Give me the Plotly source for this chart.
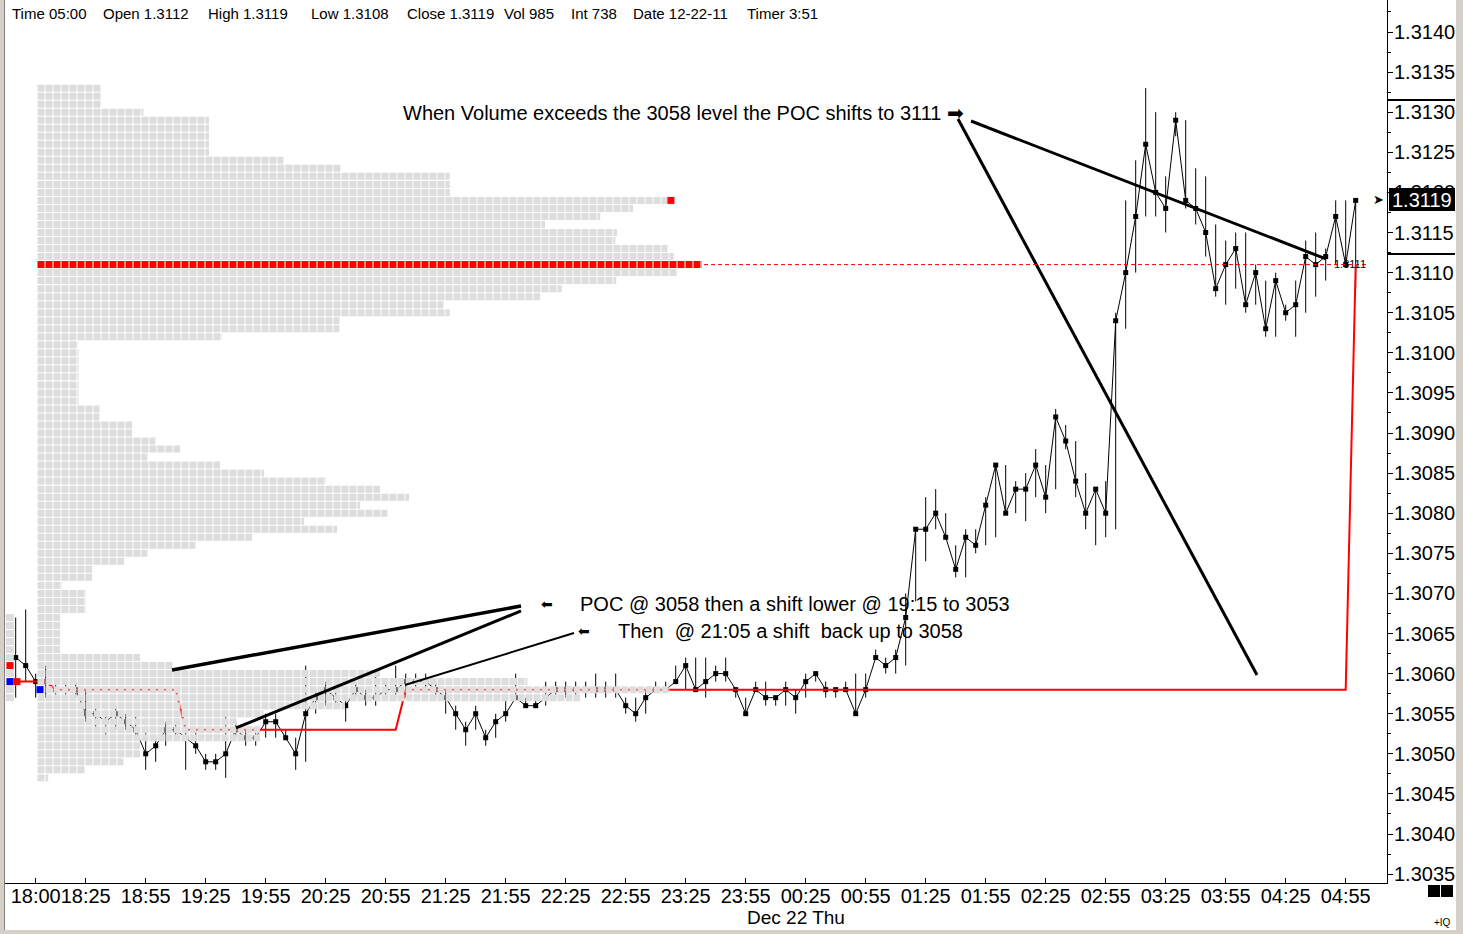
import pandas as pd
import plotly.graph_objects as go

# quotes are written as their last four digits: 3062 -> 1.3062
# 5 minute bars, 17:50 .. 05:00, one row per hour
CLOSE_Q = [
    3062, 3061,
    3059, 3059, 3058, 3058, 3058, 3055, 3055, 3054, 3055, 3054, 3053, 3050,
    3051, 3053, 3053, 3052, 3051, 3049, 3049, 3050, 3053, 3052, 3052, 3054,
    3054, 3052, 3050, 3055, 3057, 3058, 3057, 3056, 3058, 3057, 3057, 3058,
    3058, 3059, 3059, 3059, 3058, 3057, 3055, 3053, 3055, 3052, 3054, 3055,
    3057, 3056, 3056, 3057, 3058, 3058, 3058, 3058, 3058, 3058, 3058, 3056,
    3055, 3057, 3058, 3058, 3059, 3061, 3058, 3059, 3060, 3060, 3058, 3055,
    3058, 3057, 3057, 3058, 3057, 3059, 3060, 3058, 3058, 3058, 3055, 3058,
    3062, 3061, 3062, 3067, 3078, 3078, 3080, 3077, 3073, 3077, 3076, 3081,
    3086, 3080, 3083, 3083, 3086, 3082, 3092, 3089, 3084, 3080, 3083, 3080,
    3104, 3110, 3117, 3126, 3120, 3118, 3129, 3119, 3118, 3115, 3108, 3111,
    3113, 3106, 3110, 3103, 3109, 3105, 3106, 3112, 3111, 3112, 3117, 3111,
    3119,
]
HIGH_Q = [
    3067, 3068,
    3060, 3061, 3059, 3059, 3059, 3058, 3056, 3055, 3056, 3055, 3055, 3053,
    3052, 3054, 3054, 3053, 3053, 3050, 3050, 3055, 3054, 3053, 3053, 3055,
    3055, 3053, 3052, 3061, 3058, 3059, 3058, 3057, 3059, 3058, 3060, 3059,
    3061, 3060, 3060, 3060, 3059, 3058, 3056, 3054, 3056, 3053, 3055, 3057,
    3060, 3057, 3057, 3059, 3059, 3059, 3059, 3059, 3060, 3059, 3060, 3057,
    3057, 3058, 3059, 3059, 3061, 3062, 3062, 3062, 3061, 3062, 3058, 3057,
    3059, 3059, 3057, 3059, 3058, 3060, 3060, 3059, 3058, 3059, 3060, 3060,
    3063, 3062, 3063, 3070, 3078, 3082, 3083, 3080, 3076, 3078, 3078, 3082,
    3086, 3086, 3084, 3085, 3088, 3086, 3093, 3091, 3089, 3085, 3083, 3084,
    3105, 3119, 3124, 3133, 3130, 3122, 3130, 3129, 3123, 3122, 3116, 3114,
    3115, 3115, 3111, 3109, 3110, 3106, 3109, 3114, 3115, 3113, 3119, 3119,
    3119,
]
LOW_Q = [
    3057, 3059,
    3057, 3057, 3057, 3057, 3057, 3054, 3053, 3052, 3053, 3053, 3052, 3048,
    3049, 3051, 3052, 3048, 3050, 3048, 3048, 3047, 3052, 3051, 3051, 3052,
    3052, 3052, 3048, 3049, 3055, 3056, 3056, 3054, 3057, 3056, 3056, 3057,
    3057, 3057, 3058, 3058, 3057, 3055, 3053, 3051, 3053, 3051, 3052, 3054,
    3057, 3056, 3056, 3056, 3057, 3057, 3057, 3057, 3057, 3057, 3057, 3055,
    3054, 3055, 3058, 3058, 3059, 3058, 3058, 3057, 3059, 3059, 3057, 3055,
    3058, 3056, 3056, 3056, 3055, 3057, 3059, 3057, 3057, 3058, 3055, 3057,
    3062, 3060, 3060, 3061, 3069, 3074, 3078, 3077, 3072, 3072, 3075, 3076,
    3077, 3080, 3080, 3079, 3082, 3080, 3083, 3088, 3082, 3078, 3076, 3077,
    3078, 3103, 3110, 3117, 3117, 3115, 3127, 3118, 3116, 3112, 3107, 3106,
    3108, 3105, 3106, 3102, 3102, 3104, 3102, 3105, 3107, 3109, 3111, 3111,
    3108,
]
# developing point of control, bar by bar
POC_Q = [
    3059, 3059,
    3059, 3059, 3058, 3058, 3058, 3058, 3058, 3058, 3058, 3058, 3058, 3058,
    3058, 3058, 3058, 3053, 3053, 3053, 3053, 3053, 3053, 3053, 3053, 3053,
    3053, 3053, 3053, 3053, 3053, 3053, 3053, 3053, 3053, 3053, 3053, 3053,
    3053, 3058, 3058, 3058, 3058, 3058, 3058, 3058, 3058, 3058, 3058, 3058,
    3058, 3058, 3058, 3058, 3058, 3058, 3058, 3058, 3058, 3058, 3058, 3058,
    3058, 3058, 3058, 3058, 3058, 3058, 3058, 3058, 3058, 3058, 3058, 3058,
    3058, 3058, 3058, 3058, 3058, 3058, 3058, 3058, 3058, 3058, 3058, 3058,
    3058, 3058, 3058, 3058, 3058, 3058, 3058, 3058, 3058, 3058, 3058, 3058,
    3058, 3058, 3058, 3058, 3058, 3058, 3058, 3058, 3058, 3058, 3058, 3058,
    3058, 3058, 3058, 3058, 3058, 3058, 3058, 3058, 3058, 3058, 3058, 3058,
    3058, 3058, 3058, 3058, 3058, 3058, 3058, 3058, 3058, 3058, 3058, 3058,
    3111,
]
BAR_TIMES = pd.date_range("2011-12-21 17:50", "2011-12-22 05:00", freq="5min")

TICK_LABELS = ["18:00", "18:25", "18:55", "19:25", "19:55", "20:25", "20:55",
               "21:25", "21:55", "22:25", "22:55", "23:25", "23:55", "00:25",
               "00:55", "01:25", "01:55", "02:25", "02:55", "03:25", "03:55",
               "04:25", "04:55"]

# volume profile: price level -> width in cells
PROFILE_LEVELS = list(range(3047, 3134))
PROFILE_CELLS = [
    1.4, 6.0, 10.8, 12.9, 12.9, 27.9, 27.9, 25.0, 28.3, 38.5,
    67.9, 79.1, 61.3, 42.9, 17.0, 12.9, 2.9, 2.9, 2.9, 2.9,
    2.9, 6.1, 6.1, 6.1, 3.1, 6.9, 6.9, 10.9, 13.8, 19.8,
    26.9, 37.5, 33.4, 43.8, 40.4, 46.5, 42.9, 36.1, 28.4, 22.9,
    13.8, 17.9, 14.8, 11.9, 11.9, 7.8, 7.8, 5.2, 5.2, 5.2,
    5.2, 5.2, 5.2, 5.2, 5.1, 23.1, 37.8, 37.8, 51.6, 50.8,
    62.9, 65.6, 72.4, 80.0, 83.1, 79.6, 78.8, 72.3, 72.5, 63.5,
    70.4, 74.5, 78.8, 51.6, 51.6, 51.6, 38.0, 30.8, 21.5, 21.5,
    21.5, 21.5, 21.5, 13.3, 8.0, 8.0, 8.0,
]
POC_LEVEL = 3111
LAST_LEVEL = 3119

# tail of the previous session's profile, cut at the left edge
PREV_LEVELS = [3057, 3058, 3059, 3060, 3061, 3062, 3063, 3064, 3065, 3066, 3067]
PREV_CELLS = [1.0, 1.0, 1.3, 1.0, 1.0, 1.0, 1.0, 1.0, 1.0, 1.0, 1.0]

# previous session marks on the left edge
MARK_TIMES = ["2011-12-21 17:47:09", "2011-12-21 17:47:09", "2011-12-21 17:50:39", "2011-12-21 18:02:09"]
MARK_Q = [3061, 3059, 3059, 3058]
MARK_COLORS = ["red", "blue", "red", "blue"]

HEADER = ["Time 05:00", "Open 1.3112", "High 1.3119", "Low 1.3108", "Close 1.3119",
          "Vol 985", "Int 738", "Date 12-22-11", "Timer 3:51"]
HEADER_X = [10, 101, 206, 309, 405, 502, 569, 631, 745]

FONT = "Liberation Sans, Arial, sans-serif"

# plot area in pixels
PX_L, PX_R, PX_T, PX_B = 5, 1387, 0, 883


def q(v):
    return 1 + v / 10000


def fx(px):
    return (px - PX_L) / (PX_R - PX_L)


def fy(py):
    return (PX_B - py) / (PX_B - PX_T)


def tick_time(label):
    day = "2011-12-21" if int(label[:2]) >= 12 else "2011-12-22"
    return pd.Timestamp(day + " " + label)


close = [q(v) for v in CLOSE_Q]
poc = [q(v) for v in POC_Q]
hl_x, hl_y = [], []
for t, lo, hi in zip(BAR_TIMES, LOW_Q, HIGH_Q):
    hl_x += [t, t, None]
    hl_y += [q(lo), q(hi), None]

fig = go.Figure()
fig.add_trace(go.Scatter(x=hl_x, y=hl_y, mode="lines", line=dict(color="black", width=1),
                         hoverinfo="skip"))
fig.add_trace(go.Scatter(x=BAR_TIMES, y=close, mode="lines+markers",
                         line=dict(color="black", width=1),
                         marker=dict(symbol="square", size=5, color="black")))
fig.add_trace(go.Scatter(x=BAR_TIMES, y=poc, mode="lines", line=dict(color="red", width=2)))

gray_levels = [q(p) for p in PROFILE_LEVELS if p != POC_LEVEL]
gray_cells = [c for p, c in zip(PROFILE_LEVELS, PROFILE_CELLS) if p != POC_LEVEL]
poc_cells = [c for p, c in zip(PROFILE_LEVELS, PROFILE_CELLS) if p == POC_LEVEL]
last_cells = [c for p, c in zip(PROFILE_LEVELS, PROFILE_CELLS) if p == LAST_LEVEL]


def cells(color):
    # one cell = 8 px: 7 px of colour, 1 px gap
    return dict(color=color, line_width=0,
                pattern=dict(shape="|", size=8, solidity=0.875, fillmode="replace",
                             fgcolor=color, fgopacity=1, bgcolor="rgba(0,0,0,0)"))


fig.add_trace(go.Bar(x=gray_cells, y=gray_levels, orientation="h", xaxis="x2", yaxis="y",
                     width=0.0000873, marker=cells("#dddddd"), hoverinfo="skip"))
fig.add_trace(go.Bar(x=poc_cells, y=[q(POC_LEVEL)], orientation="h", xaxis="x2", yaxis="y",
                     width=0.0000873, marker=cells("#ff0000"), hoverinfo="skip"))
fig.add_trace(go.Bar(x=[0.875], base=last_cells, y=[q(LAST_LEVEL)], orientation="h",
                     xaxis="x2", yaxis="y", width=0.0000873,
                     marker=dict(color="#ff0000", line_width=0), hoverinfo="skip"))
fig.add_trace(go.Bar(x=PREV_CELLS, base=[-3.9] * len(PREV_CELLS), y=[q(p) for p in PREV_LEVELS],
                     orientation="h", xaxis="x2", yaxis="y", width=0.0000873,
                     marker=dict(color="#dddddd", line_width=0), hoverinfo="skip"))

fig.add_trace(go.Scatter(x=MARK_TIMES, y=[q(v) for v in MARK_Q], mode="markers", xaxis="x3",
                         marker=dict(symbol="square", size=7, color=MARK_COLORS)))

x_range = ["2011-12-21 17:44:39", "2011-12-22 05:15:39"]
y_range = [q(3140 - (PX_B - 32) / 8.02), q(3140 + 32 / 8.02)]

fig.update_layout(
    width=1463, height=934,
    margin=dict(l=PX_L, r=1463 - PX_R, t=PX_T, b=934 - PX_B),
    paper_bgcolor="white", plot_bgcolor="white",
    showlegend=False, barmode="overlay",
    font=dict(family=FONT, color="black"),
    xaxis=dict(type="date", range=x_range,
               tickvals=[tick_time(s) for s in TICK_LABELS], ticktext=TICK_LABELS,
               ticks="inside", ticklen=5, tickcolor="black", tickangle=0,
               ticklabelstandoff=-5,
               showline=True, linecolor="black", linewidth=1,
               showgrid=False, zeroline=False, tickfont=dict(size=20)),
    xaxis2=dict(overlaying="x", anchor="y", range=[-4, 168.75], visible=False),
    xaxis3=dict(overlaying="x", anchor="y", type="date", range=x_range, visible=False),
    yaxis=dict(range=y_range, side="right", dtick=0.0005, tick0=1.3035, tickformat=".4f",
               ticks="outside", ticklen=5, tickcolor="black", ticklabelstandoff=-3,
               showline=True, linecolor="black", linewidth=1,
               showgrid=False, zeroline=False, tickfont=dict(size=20),
               minor=dict(ticks="outside", ticklen=3, dtick=0.00025, tickcolor="black",
                          showgrid=False)),
)

# drawn trend lines
trend_lines = [
    ("2011-12-22 01:41:10", 3129.15, "2011-12-22 04:10:39", 3059.83, 3),
    ("2011-12-22 01:47:39", 3128.9, "2011-12-22 04:45:09", 3111.7, 3),
    ("2011-12-21 19:08:09", 3060.45, "2011-12-21 22:02:39", 3068.43, 3.5),
    ("2011-12-21 19:40:09", 3053.22, "2011-12-21 22:02:39", 3067.81, 3),
    ("2011-12-21 21:04:39", 3058.58, "2011-12-21 22:29:09", 3065.06, 2),
]
for x0, y0, x1, y1, w in trend_lines:
    fig.add_shape(type="line", xref="x", yref="y", x0=x0, y0=q(y0), x1=x1, y1=q(y1),
                  line=dict(color="black", width=w))

# POC extension
fig.add_shape(type="line", xref="x", yref="y", x0="2011-12-21 23:34:09", x1="2011-12-22 05:06:09",
              y0=q(POC_LEVEL), y1=q(POC_LEVEL), line=dict(color="red", width=1, dash="4px,3px"))

# last price box and range marks on the axis
fig.add_shape(type="rect", xref="paper", yref="paper", x0=fx(1389), x1=fx(1455),
              y0=fy(211), y1=fy(188), fillcolor="black", line_width=0)
for py in [100, 254]:
    fig.add_shape(type="line", xref="paper", yref="paper", x0=1, x1=fx(1455), y0=fy(py), y1=fy(py),
                  line=dict(color="black", width=2))

# window frame
frame = [(0, 4, 0, 934), (1456, 1463, 0, 934), (0, 1463, 930, 934)]
for x0, x1, y0, y1 in frame:
    fig.add_shape(type="rect", xref="paper", yref="paper", x0=fx(x0), x1=fx(x1),
                  y0=fy(y1), y1=fy(y0), fillcolor="#d4d0c8", line_width=0)
fig.add_shape(type="line", xref="paper", yref="paper", x0=fx(4.5), x1=fx(4.5), y0=fy(930), y1=1,
              line=dict(color="#808080", width=1))
for x0 in [1428, 1441]:
    fig.add_shape(type="rect", xref="paper", yref="paper", x0=fx(x0), x1=fx(x0 + 12),
                  y0=fy(897), y1=fy(885), fillcolor="black", line_width=0)

notes = [
    (HEADER_X[i], 14, HEADER[i], 15, "left") for i in range(len(HEADER))
] + [
    (401, 113, "When Volume exceeds the 3058 level the POC shifts to 3111 \u27a1", 20, "left"),
    (547, 604, "\u2b05", 14, "center"),
    (578, 604, "POC @ 3058 then a shift lower @ 19:15 to 3053", 20, "left"),
    (584, 631, "\u2b05", 14, "center"),
    (616, 631, "Then\u00a0 @ 21:05 a shift\u00a0 back up to 3058", 20, "left"),
    (796, 917, "Dec 22 Thu", 19, "center"),
    (1443, 922, "+IQ", 10, "center"),
    (1368, 264, "1.3111", 11, "right"),
    (1378, 199, "\u27a4", 13, "center"),
    (1422, 200, "<span style='color:white'>1.3119</span>", 20, "center"),
]
for px, py, text, size, anchor in notes:
    fig.add_annotation(x=fx(px), y=fy(py), xref="paper", yref="paper", text=text, showarrow=False,
                       xanchor=anchor, yanchor="middle", font=dict(size=size, color="black"))

fig.write_html("out.html", config={"displayModeBar": False},
               post_script="document.body.style.margin='0';document.body.style.overflow='hidden';")
